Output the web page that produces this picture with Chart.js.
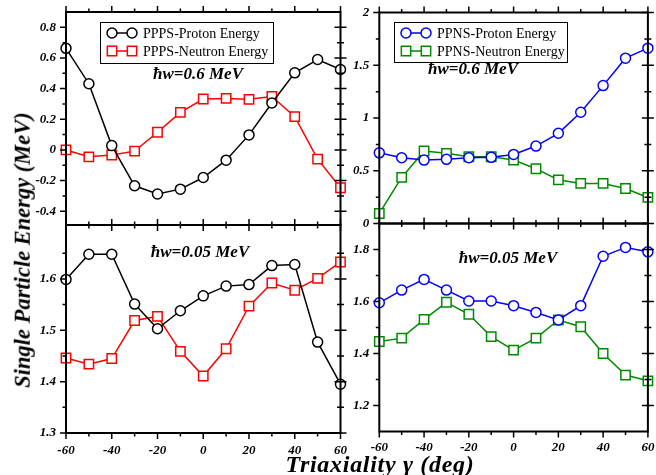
<!DOCTYPE html>
<html><head><meta charset="utf-8">
<script src="https://cdn.jsdelivr.net/npm/chart.js@4"></script>
<style>
html,body{margin:0;padding:0;background:#fff;}
#wrap{position:relative;width:656px;height:475px;overflow:hidden;background:#fff;}
#wrap canvas{position:absolute;left:0;top:0;}
.t{position:absolute;font-family:'Liberation Serif','Times New Roman',serif;font-weight:bold;font-style:italic;white-space:nowrap;color:#000;line-height:1;}
#xt{left:380px;top:464px;font-size:24px;letter-spacing:0.7px;transform:translate(-50%,-50%);}
#yt{left:23px;top:250px;font-size:22.5px;transform:translate(-50%,-50%) rotate(-90deg);}
</style></head><body>
<div id="wrap">
<canvas id="c1" width="656" height="475"></canvas>
<canvas id="c2" width="656" height="475"></canvas>
<canvas id="c3" width="656" height="475"></canvas>
<canvas id="c4" width="656" height="475"></canvas>
<div class="t" id="xt">Triaxiality γ (deg)</div>
<div class="t" id="yt">Single Particle Energy (MeV)</div>
</div>
<script>
// ---- data ----
const gamma = [-60,-50,-40,-30,-20,-10,0,10,20,30,40,50,60];
const ppps06Proton  = [0.663,0.432,0.028,-0.234,-0.288,-0.256,-0.180,-0.067,0.098,0.306,0.503,0.590,0.525];
const ppps06Neutron = [0.000,-0.045,-0.033,-0.008,0.115,0.245,0.332,0.336,0.330,0.349,0.217,-0.060,-0.247];
const ppns06Proton  = [0.670,0.623,0.601,0.608,0.623,0.627,0.655,0.734,0.855,1.054,1.307,1.567,1.662];
const ppns06Neutron = [0.095,0.437,0.687,0.665,0.633,0.633,0.601,0.519,0.414,0.380,0.380,0.332,0.247];
const ppps005Proton  = [1.599,1.648,1.648,1.551,1.503,1.538,1.567,1.586,1.589,1.626,1.628,1.477,1.395];
const ppps005Neutron = [1.446,1.434,1.445,1.519,1.527,1.459,1.411,1.464,1.547,1.592,1.578,1.601,1.633];
const ppns005Proton  = [1.595,1.644,1.685,1.644,1.602,1.602,1.584,1.558,1.529,1.584,1.774,1.808,1.791];
const ppns005Neutron = [1.446,1.459,1.531,1.597,1.551,1.465,1.413,1.459,1.529,1.503,1.400,1.317,1.295];

// ---- tick labels ----
const xMajor = [-60,-40,-20,0,20,40,60];
const xMinor = [-50,-30,-10,10,30,50];
const tlMajor = [-0.4,-0.2,0,0.2,0.4,0.6,0.8];
const tlMinor = [-0.3,-0.1,0.1,0.3,0.5,0.7];
const blMajor = [1.3,1.4,1.5,1.6];
const blMinor = [1.35,1.45,1.55,1.65];
const trMajor = [0,0.5,1,1.5,2];
const trMinor = [0.25,0.75,1.25,1.75];
const brMajor = [1.2,1.4,1.6,1.8];
const brMinor = [1.3,1.5,1.7];

const SERIF = "'Liberation Serif','Times New Roman',serif";
const tickFont = {family:SERIF, size:13, weight:'bold', style:'italic'};
const fmt = v => String(Math.round(v*1000)/1000);

const framePlugin = {
  id:'frame',
  afterDatasetsDraw(chart, args, o){
    const {ctx, chartArea:a} = chart;
    const x = chart.scales.x, y = chart.scales.y;
    ctx.save();
    ctx.strokeStyle = '#000';
    ctx.lineWidth = 2;
    ctx.strokeRect(a.left, a.top, a.right-a.left, a.bottom-a.top);
    ctx.lineWidth = 1.5;
    const MAJ = 6, MIN = 3.5;
    const xs = o.xMajor.map(v=>[x.getPixelForValue(v),MAJ]).concat(o.xMinor.map(v=>[x.getPixelForValue(v),MIN]));
    const ys = o.yMajor.map(v=>[y.getPixelForValue(v),MAJ]).concat(o.yMinor.map(v=>[y.getPixelForValue(v),MIN]));
    ctx.beginPath();
    xs.forEach(([p,l])=>{ ctx.moveTo(p,a.top); ctx.lineTo(p,a.top-l); ctx.moveTo(p,a.bottom); ctx.lineTo(p,a.bottom+l); });
    ys.forEach(([p,l])=>{ ctx.moveTo(a.left,p); ctx.lineTo(a.left-l,p); ctx.moveTo(a.right-l,p); ctx.lineTo(a.right+l,p); });
    ctx.stroke();
    // legend
    if (o.legend){
      const L = o.legend;
      ctx.lineWidth = 1;
      ctx.strokeStyle = '#000';
      ctx.strokeRect(L.x+0.5, L.y+0.5, L.w, L.h);
      chart.data.datasets.forEach((ds,i)=>{
        const cy = L.y + 11 + i*18;
        ctx.strokeStyle = ds.borderColor;
        ctx.lineWidth = 1.5;
        ctx.beginPath(); ctx.moveTo(L.x+12, cy); ctx.lineTo(L.x+32, cy); ctx.stroke();
        [L.x+12, L.x+32].forEach(px=>{
          ctx.beginPath();
          if (ds.pointStyle==='circle'){ ctx.arc(px, cy, ds.pointRadius, 0, Math.PI*2); }
          else { const s = ds.pointRadius*Math.SQRT1_2; ctx.rect(px-s, cy-s, 2*s, 2*s); }
          ctx.fillStyle = '#fff'; ctx.fill(); ctx.stroke();
        });
        ctx.fillStyle = '#000';
        ctx.font = '14px ' + SERIF;
        ctx.textAlign = 'left'; ctx.textBaseline = 'middle';
        ctx.fillText(ds.label, L.x+43, cy+1);
      });
    }
    if (o.note){
      ctx.fillStyle = '#000';
      ctx.font = 'italic bold 17px ' + SERIF;
      ctx.textAlign = 'center'; ctx.textBaseline = 'middle';
      ctx.fillText(o.note.text, o.note.x, o.note.y);
    }
    ctx.restore();
  }
};

function makePanel(id, area, yMin, yMax, yMajor, yMinor, showX, xPad, sets, legend, note){
  const YW = 60, XH = showX ? 30 : 0;
  return new Chart(document.getElementById(id), {
    type:'line',
    data:{ datasets: sets.map(s=>({
      label:s.label,
      data: gamma.map((g,i)=>({x:g, y:s.values[i]})),
      borderColor:s.color, backgroundColor:'#fff', borderWidth:1.5,
      pointStyle:s.style, pointRadius: s.style==='circle'?5:6.6, pointBorderWidth:1.5,
      pointBackgroundColor:'#fff', pointBorderColor:s.color,
      tension:0, fill:false, clip:false
    }))},
    options:{
      responsive:false, animation:false, devicePixelRatio:1, events:[],
      layout:{padding:{left:area.l-YW, right:656-area.r, top:area.t, bottom:475-area.b-XH}},
      plugins:{ legend:{display:false}, tooltip:{enabled:false},
        frame:{xMajor, xMinor, yMajor, yMinor, legend, note} },
      scales:{
        x:{ type:'linear', min:-60, max:60,
            grid:{display:false, drawTicks:false}, border:{display:false},
            afterBuildTicks: s=>{ s.ticks = xMajor.map(v=>({value:v})); },
            afterFit: s=>{ s.height = XH; s.paddingLeft = 0; s.paddingRight = 0; },
            ticks:{ display:showX, font:tickFont, color:'#000', padding:xPad, maxRotation:0, autoSkip:false, callback:v=>fmt(v) } },
        y:{ type:'linear', min:yMin, max:yMax,
            grid:{display:false, drawTicks:false}, border:{display:false},
            afterBuildTicks: s=>{ s.ticks = yMajor.map(v=>({value:v})); },
            afterFit: s=>{ s.width = YW; s.paddingTop = 0; s.paddingBottom = 0; },
            ticks:{ font:tickFont, color:'#000', padding:10, autoSkip:false, callback:v=>fmt(v) } }
      }
    },
    plugins:[framePlugin]
  });
}

const LA = {l:66, r:340.5};
const RA = {l:379.3, r:652.5};

makePanel('c1', {l:LA.l, r:LA.r, t:12, b:225}, -0.49, 0.9, tlMajor, tlMinor, false, 0,
  [{label:'PPPS-Proton Energy', values:ppps06Proton, color:'#000000', style:'circle'},
   {label:'PPPS-Neutron Energy', values:ppps06Neutron, color:'#ff0000', style:'rect'}],
  {x:100, y:22, w:173, h:41}, {text:'ħw=0.6 MeV', x:198, y:75});

makePanel('c2', {l:LA.l, r:LA.r, t:225, b:433}, 1.3, 1.705, blMajor, blMinor, true, 10,
  [{label:'PPPS-Proton Energy', values:ppps005Proton, color:'#000000', style:'circle'},
   {label:'PPPS-Neutron Energy', values:ppps005Neutron, color:'#ff0000', style:'rect'}],
  null, {text:'ħw=0.05 MeV', x:200, y:253});

makePanel('c3', {l:RA.l, r:RA.r, t:12.5, b:223.5}, 0, 2, trMajor, trMinor, false, 0,
  [{label:'PPNS-Proton Energy', values:ppns06Proton, color:'#0000ff', style:'circle'},
   {label:'PPNS-Neutron Energy', values:ppns06Neutron, color:'#008a00', style:'rect'}],
  {x:394, y:22, w:173, h:40}, {text:'ħw=0.6 MeV', x:473, y:70});

makePanel('c4', {l:RA.l, r:RA.r, t:223.5, b:431.5}, 1.1, 1.9, brMajor, brMinor, true, 8,
  [{label:'PPNS-Proton Energy', values:ppns005Proton, color:'#0000ff', style:'circle'},
   {label:'PPNS-Neutron Energy', values:ppns005Neutron, color:'#008a00', style:'rect'}],
  null, {text:'ħw=0.05 MeV', x:508, y:259});
</script>
</body></html>
